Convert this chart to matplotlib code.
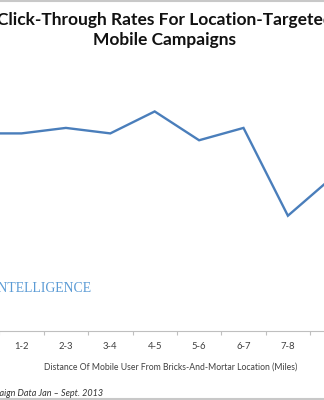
import matplotlib
matplotlib.use("Agg")
import matplotlib.pyplot as plt
from matplotlib.lines import Line2D

# distance buckets (first and last fall outside the cropped view)
distance = ["0-1", "1-2", "2-3", "3-4", "4-5", "5-6", "6-7", "7-8", "8-9"]
# click-through rate (%)
ctr = [0.72, 0.72, 0.74, 0.72, 0.80, 0.695, 0.74, 0.42, 0.56]

title = "Click-Through Rates For Location-Targeted\nMobile Campaigns"
xlabel = "Distance Of Mobile User From Bricks-And-Mortar Location (Miles)"
source = "Source: BI Intelligence, Campaign Data Jan \u2013 Sept. 2013"

W, H = 324, 400
fig = plt.figure(figsize=(W / 100, H / 100), dpi=100)
plt.rcParams['font.family'] = ['Lato', 'DejaVu Sans']

# axes wider than the figure: the reference is a crop of a wider chart
left_px, right_px = -45.1, 354.5
bottom_px, top_px = 331, 84
ax = fig.add_axes([left_px / W, 1 - bottom_px / H,
                   (right_px - left_px) / W, (bottom_px - top_px) / H])

x = list(range(len(distance)))
ax.plot(x, ctr, color="#4a7ebb", lw=1.7, solid_joinstyle="miter")
ax.set_xlim(-0.5, len(distance) - 0.5)
ax.set_ylim(0, 0.9)

# only the buckets inside the crop get a label
ax.set_xticks(x[1:8])
ax.set_xticklabels(distance[1:8], fontsize=6.8, color="#404040")
ax.set_xticks([i + 0.5 for i in x], minor=True)
ax.tick_params(axis="x", which="major", length=0, pad=8)
ax.tick_params(axis="x", which="minor", length=3, color="#bfbfbf", width=0.8)
ax.set_yticks([])
for s in ["top", "right", "left"]:
    ax.spines[s].set_visible(False)
ax.spines["bottom"].set_color("#bfbfbf")
ax.spines["bottom"].set_linewidth(0.8)

fig.text(171 / W, 1 - 367 / H, xlabel, fontsize=6.2, color="#404040",
         ha="center", va="center")

fig.text(164.5 / W, 1 - 30 / H, title, fontsize=12.5, fontweight="bold",
         ha="center", va="center", linespacing=1.25, color="#111111")

fig.text(92 / W, 1 - 288 / H, "INTELLIGENCE", family="Liberation Serif",
         fontsize=9.9, color="#5b9bd5", ha="right", va="center")

fig.text(103 / W, 1 - 393 / H, source, fontsize=6.5, style="italic",
         color="#333333", ha="right", va="center")

# thin gray frame lines at top and bottom of the crop
fig.add_artist(Line2D([0, 1], [1 - 1 / H, 1 - 1 / H], color="#c8c8c8", lw=1.5))
fig.add_artist(Line2D([0, 1], [1 - 398.5 / H, 1 - 398.5 / H], color="#c8c8c8", lw=1.5))

fig.savefig("out.png", dpi=100, facecolor="white")
